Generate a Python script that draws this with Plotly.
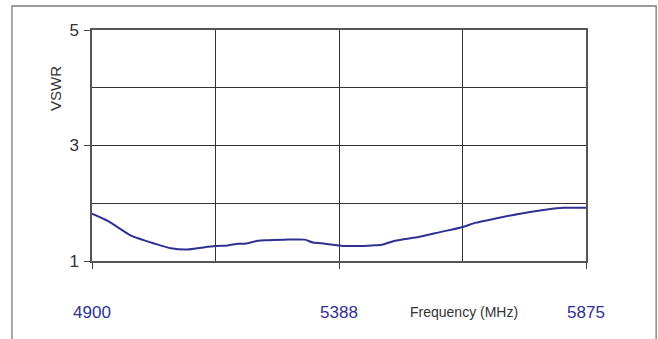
import plotly.graph_objects as go

freq_mhz = [4900, 4932, 4977, 5024, 5056, 5089, 5115, 5143, 5168, 5188,
            5202, 5228, 5241, 5280, 5320, 5336, 5360, 5386, 5395, 5420,
            5453, 5472, 5498, 5547, 5587, 5632, 5656, 5699, 5745, 5798,
            5830, 5875]
vswr = [1.82, 1.69, 1.44, 1.30, 1.22, 1.20, 1.23, 1.26, 1.27, 1.30,
        1.30, 1.35, 1.36, 1.37, 1.37, 1.32, 1.30, 1.27, 1.26, 1.26,
        1.27, 1.28, 1.35, 1.42, 1.50, 1.59, 1.66, 1.74, 1.82, 1.89,
        1.92, 1.92]

x_tickvals = [4900, 5387.5, 5875]
x_ticktext = ["4900", "5388", "5875"]
y_tickvals = [1, 3, 5]
y_ticktext = ["1", "3", "5"]

fig = go.Figure()

fig.add_trace(go.Scatter(
    x=freq_mhz,
    y=vswr,
    mode='lines',
    line=dict(color='#2e3192', width=2, shape='spline', smoothing=0.6),
    hoverinfo='skip'
))

# outer frame around the whole chart
fig.add_shape(
    type="rect", xref="paper", yref="paper",
    x0=-0.162, x1=1.142, y0=-0.45, y1=1.104,
    line=dict(color="#7a7a7a", width=1.3),
    layer="below"
)

fig.add_annotation(
    text="Frequency (MHz)", xref="paper", yref="paper",
    x=0.753, y=-0.221, xanchor="center", yanchor="middle", showarrow=False,
    font=dict(family="Liberation Sans, Arial", size=14, color="#333333")
)
fig.add_annotation(
    text="VSWR", xref="paper", yref="paper",
    x=-0.073, y=0.749, xanchor="center", yanchor="middle",
    showarrow=False, textangle=-90,
    font=dict(family="Liberation Sans, Arial", size=15, color="#333333")
)

fig.update_layout(
    width=658,
    height=339,
    showlegend=False,
    margin=dict(l=92, r=72, t=30, b=78),
    paper_bgcolor='white',
    plot_bgcolor='white',
    font=dict(family="Liberation Sans, Arial", color="#333333"),
    xaxis=dict(
        range=[4900, 5875],
        tickvals=x_tickvals,
        ticktext=x_ticktext,
        ticks='outside', ticklen=6, tickwidth=1.2, tickcolor='#444444',
        tickfont=dict(size=17, color='#2e3192'),
        ticklabelstandoff=29,
        automargin=False,
        showgrid=True, gridcolor='#333333', gridwidth=1.2,
        minor=dict(tick0=4900, dtick=243.75, showgrid=True,
                   gridcolor='#333333', gridwidth=1.2, ticks=''),
        showline=True, linecolor='#555555', linewidth=1.5, mirror=True,
        zeroline=False, fixedrange=True
    ),
    yaxis=dict(
        range=[1, 5],
        tickvals=y_tickvals,
        ticktext=y_ticktext,
        ticks='outside', ticklen=6, tickwidth=1.2, tickcolor='#444444',
        tickfont=dict(size=17, color='#333333'),
        ticklabelstandoff=2,
        automargin=False,
        showgrid=True, gridcolor='#333333', gridwidth=1.2,
        minor=dict(dtick=1, showgrid=True, gridcolor='#333333',
                   gridwidth=1.2, ticks=''),
        showline=True, linecolor='#555555', linewidth=1.5, mirror=True,
        zeroline=False, fixedrange=True
    )
)

fig.write_html("out.html", config={"displayModeBar": False},
               post_script="document.body.style.margin='0';")
